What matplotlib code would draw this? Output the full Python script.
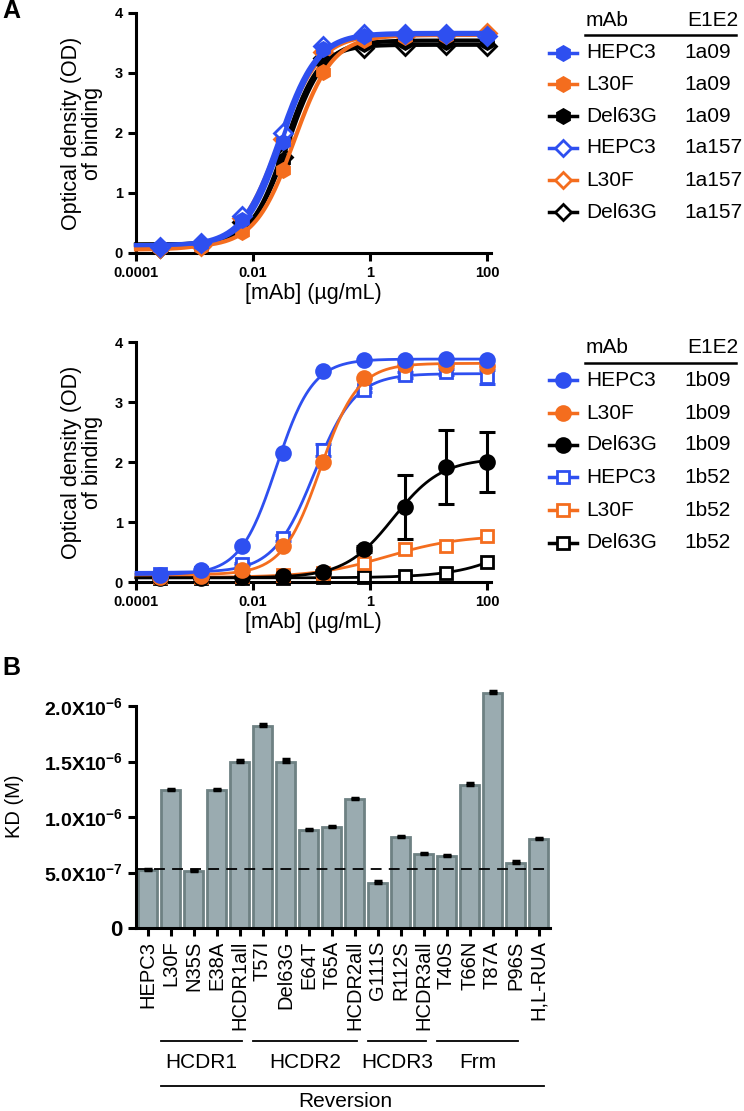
import numpy as np
import matplotlib
matplotlib.use("Agg")
import matplotlib.pyplot as plt
from matplotlib.lines import Line2D
from matplotlib.transforms import blended_transform_factory

plt.rcParams['font.family'] = ['Liberation Sans', 'DejaVu Sans']
plt.rcParams['mathtext.fontset'] = 'custom'
plt.rcParams['mathtext.rm'] = 'Liberation Sans'
plt.rcParams['mathtext.bf'] = 'Liberation Sans:bold'

# ---------------- data ----------------
conc = [0.000256, 0.00128, 0.0064, 0.032, 0.16, 0.8, 4, 20, 100]

# panel A top (E1E2 1a09 / 1a157)
hepc3_1a09 = [0.10, 0.15, 0.55, 1.85, 3.40, 3.62, 3.63, 3.63, 3.62]
l30f_1a09 = [0.08, 0.10, 0.35, 1.38, 3.02, 3.55, 3.60, 3.62, 3.63]
del63g_1a09 = [0.08, 0.12, 0.50, 1.55, 3.20, 3.48, 3.52, 3.52, 3.52]
hepc3_1a157 = [0.10, 0.17, 0.62, 2.00, 3.45, 3.65, 3.65, 3.65, 3.62]
l30f_1a157 = [0.08, 0.12, 0.58, 1.90, 3.35, 3.60, 3.62, 3.63, 3.66]
del63g_1a157 = [0.08, 0.13, 0.52, 1.60, 3.25, 3.42, 3.45, 3.47, 3.45]

# panel A bottom (E1E2 1b09 / 1b52)
hepc3_1b09 = [0.12, 0.20, 0.60, 2.15, 3.52, 3.70, 3.70, 3.72, 3.70]
l30f_1b09 = [0.08, 0.10, 0.20, 0.60, 2.00, 3.40, 3.62, 3.62, 3.60]
del63g_1b09 = [0.07, 0.07, 0.08, 0.10, 0.17, 0.55, 1.25, 1.92, 2.00]
del63g_1b09_err = [0.0, 0.0, 0.0, 0.0, 0.03, 0.05, 0.53, 0.62, 0.50]
hepc3_1b52 = [0.13, 0.15, 0.30, 0.73, 2.20, 3.20, 3.45, 3.50, 3.42]
hepc3_1b52_err = [0.0, 0.0, 0.02, 0.05, 0.10, 0.04, 0.05, 0.05, 0.12]
l30f_1b52 = [0.08, 0.08, 0.10, 0.12, 0.15, 0.32, 0.55, 0.60, 0.77]
del63g_1b52 = [0.06, 0.06, 0.07, 0.07, 0.08, 0.09, 0.10, 0.15, 0.33]

xtick_vals = [0.0001, 0.01, 1, 100]
xtick_labels = ['0.0001', '0.01', '1', '100']

# panel B
mutants = ['HEPC3', 'L30F', 'N35S', 'E38A', 'HCDR1all', 'T57I', 'Del63G', 'E64T',
           'T65A', 'HCDR2all', 'G111S', 'R112S', 'HCDR3all', 'T40S', 'T66N',
           'T87A', 'P96S', 'H,L-RUA']
kd = [0.52e-6, 1.24e-6, 0.51e-6, 1.24e-6, 1.50e-6, 1.82e-6, 1.50e-6, 0.88e-6,
      0.91e-6, 1.16e-6, 0.41e-6, 0.82e-6, 0.67e-6, 0.65e-6, 1.29e-6, 2.12e-6,
      0.59e-6, 0.80e-6]
kd_err = [0.01e-6, 0.015e-6, 0.01e-6, 0.012e-6, 0.015e-6, 0.015e-6, 0.025e-6, 0.01e-6,
          0.01e-6, 0.015e-6, 0.01e-6, 0.01e-6, 0.01e-6, 0.01e-6, 0.015e-6, 0.02e-6,
          0.01e-6, 0.01e-6]
kd_ref = 0.53e-6
groups = [('HCDR1', 1, 4), ('HCDR2', 5, 9), ('HCDR3', 10, 12), ('Frm', 13, 16)]
outer_group = ('Reversion', 1, 17)
ytick_b = [0, 5e-7, 1e-6, 1.5e-6, 2e-6]
ytick_b_labels = ['0', r'$\mathbf{5.0X10^{-7}}$', r'$\mathbf{1.0X10^{-6}}$',
                  r'$\mathbf{1.5X10^{-6}}$', r'$\mathbf{2.0X10^{-6}}$']

BLUE = '#2e4ff0'
ORANGE = '#f46d1e'
BLACK = '#000000'


def fit4pl(x, y):
    lx = np.log10(np.asarray(x, float))
    y = np.asarray(y, float)
    best = None
    for le in np.linspace(-4, 3.5, 151):
        for h in np.linspace(0.4, 3.0, 53):
            s = 1.0 / (1.0 + 10 ** ((le - lx) * h))
            A = np.column_stack([1 - s, s])
            coef = np.linalg.lstsq(A, y, rcond=None)[0]
            sse = np.sum((A @ coef - y) ** 2)
            if best is None or sse < best[0]:
                best = (sse, le, h, coef)
    _, le, h, (b, t) = best
    xf = np.logspace(-4, 2, 300)
    yf = b + (t - b) / (1 + 10 ** ((le - np.log10(xf)) * h))
    return xf, yf


W, H = 744, 1111
fig = plt.figure(figsize=(W / 100, H / 100), dpi=100)


def fx(px):
    return px / W


def fy(py):
    return 1 - py / H


def style_axes(ax, lw=2.2):
    for s in ['top', 'right']:
        ax.spines[s].set_visible(False)
    for s in ['left', 'bottom']:
        ax.spines[s].set_linewidth(lw)
    ax.tick_params(width=lw, length=6, direction='out')


def curve_axes(top_px):
    ax = fig.add_axes([fx(136), fy(top_px + 240), fx(354.5), 240 / H])
    ax.set_xscale('log')
    ax.set_xlim(1e-4, 10 ** 2.06)
    ax.set_ylim(0, 4)
    style_axes(ax)
    ax.set_xticks(xtick_vals)
    ax.set_xticklabels(xtick_labels, fontsize=10.5, fontweight='bold')
    ax.xaxis.set_minor_locator(matplotlib.ticker.NullLocator())
    ax.set_yticks([0, 1, 2, 3, 4])
    ax.set_yticklabels(['0', '1', '2', '3', '4'], fontsize=10.5, fontweight='bold')
    ax.set_xlabel('[mAb] (\u00b5g/mL)', fontsize=15.5, labelpad=2)
    ax.set_ylabel('Optical density (OD)\nof binding', fontsize=15.5, labelpad=8,
                  linespacing=1.0)
    return ax


def legend_block(header_y, line_y, rows):
    fig.text(fx(586), fy(header_y), 'mAb', fontsize=15, va='center', ha='left')
    fig.text(fx(738), fy(header_y), 'E1E2', fontsize=15, va='center', ha='right')
    fig.add_artist(Line2D([fx(585), fx(736)], [fy(line_y), fy(line_y)],
                          color='black', lw=1.8, transform=fig.transFigure))
    for (ry, name, e, color, marker, mfc, ms) in rows:
        fig.add_artist(Line2D([fx(549), fx(577)], [fy(ry), fy(ry)], color=color, lw=2.5,
                              transform=fig.transFigure))
        fig.add_artist(Line2D([fx(563)], [fy(ry)], color=color, lw=0, marker=marker,
                              ms=ms, mfc=mfc, mec=color, mew=2,
                              transform=fig.transFigure))
        fig.text(fx(586), fy(ry), name, fontsize=15, va='center', ha='left')
        fig.text(fx(684), fy(ry), e, fontsize=15, va='center', ha='left')


# ---- top panel ----
ax1 = curve_axes(13)
top_series = [
    (del63g_1a157, BLACK, 'D', 'white'),
    (l30f_1a157, ORANGE, 'D', 'white'),
    (del63g_1a09, BLACK, 'h', BLACK),
    (l30f_1a09, ORANGE, 'h', ORANGE),
    (hepc3_1a157, BLUE, 'D', 'white'),
    (hepc3_1a09, BLUE, 'h', BLUE),
]
for i, (ys, c, m, mfc) in enumerate(top_series):
    xf, yf = fit4pl(conc, ys)
    ax1.plot(xf, yf, color=c, lw=3.0, zorder=2 + i, clip_on=False)
    ax1.plot(conc, ys, ls='none', marker=m, ms=10 if m == 'h' else 9, mfc=mfc,
             mec=c, mew=2, zorder=2 + i, clip_on=False)

legend_block(20, 35, [
    (53, 'HEPC3', '1a09', BLUE, 'h', BLUE, 10),
    (84, 'L30F', '1a09', ORANGE, 'h', ORANGE, 10),
    (116, 'Del63G', '1a09', BLACK, 'h', BLACK, 10),
    (148, 'HEPC3', '1a157', BLUE, 'D', 'white', 8.5),
    (180, 'L30F', '1a157', ORANGE, 'D', 'white', 8.5),
    (212, 'Del63G', '1a157', BLACK, 'D', 'white', 8.5),
])

# ---- middle panel ----
ax2 = curve_axes(342)
mid_series = [
    (del63g_1b52, None, BLACK, 's', 'white'),
    (l30f_1b52, None, ORANGE, 's', 'white'),
    (del63g_1b09, del63g_1b09_err, BLACK, 'o', BLACK),
    (hepc3_1b52, hepc3_1b52_err, BLUE, 's', 'white'),
    (l30f_1b09, None, ORANGE, 'o', ORANGE),
    (hepc3_1b09, None, BLUE, 'o', BLUE),
]
for i, (ys, err, c, m, mfc) in enumerate(mid_series):
    xf, yf = fit4pl(conc, ys)
    ax2.plot(xf, yf, color=c, lw=2.0, zorder=2 + i, clip_on=False)
    if err is not None:
        ax2.errorbar(conc, ys, yerr=err, fmt='none', ecolor=c, elinewidth=2.2,
                     capsize=6, capthick=2.2, zorder=2 + i, clip_on=False)
    ax2.plot(conc, ys, ls='none', marker=m, ms=10 if m == 'o' else 9, mfc=mfc,
             mec=c, mew=2, zorder=2 + i, clip_on=False)

legend_block(348, 363, [
    (380, 'HEPC3', '1b09', BLUE, 'o', BLUE, 10),
    (413, 'L30F', '1b09', ORANGE, 'o', ORANGE, 10),
    (445, 'Del63G', '1b09', BLACK, 'o', BLACK, 10),
    (477, 'HEPC3', '1b52', BLUE, 's', 'white', 9),
    (510, 'L30F', '1b52', ORANGE, 's', 'white', 9),
    (543, 'Del63G', '1b52', BLACK, 's', 'white', 9),
])

fig.text(fx(2), fy(11), 'A', fontsize=18, fontweight='bold', va='center', ha='left')

# ---- bar panel ----
ax3 = fig.add_axes([fx(136), fy(928), fx(414), 244 / H])
style_axes(ax3)
xpos = np.arange(len(mutants))
ax3.bar(xpos, kd, width=0.8, color='#9aabb0', edgecolor='#6e8183', linewidth=2.0,
        zorder=2)
ax3.errorbar(xpos, kd, yerr=[np.zeros(len(kd)), kd_err], fmt='none', ecolor='black',
             elinewidth=2, capsize=3, capthick=2.5, zorder=3, clip_on=False)
ax3.axhline(kd_ref, color='black', lw=1.3, dashes=(6, 4), zorder=4)
ax3.set_xlim(-0.5, len(mutants) - 0.5)
ax3.set_ylim(0, 2.2e-6)
ax3.spines['left'].set_bounds(0, 2e-6)
ax3.set_yticks(ytick_b)
ax3.set_yticklabels(ytick_b_labels, fontsize=14)
ax3.get_yticklabels()[0].set_fontweight('bold')
ax3.get_yticklabels()[0].set_fontsize(16)
ax3.set_xticks(xpos)
ax3.set_xticklabels(mutants, rotation=90, fontsize=14.5)
ax3.tick_params(axis='x', pad=3)
ax3.set_ylabel('KD (M)', fontsize=14.5, labelpad=14)

tr = blended_transform_factory(ax3.transData, ax3.transAxes)
for name, a, b in groups:
    ax3.add_artist(Line2D([a - 0.4, b + 0.1], [-0.463, -0.463], color='black', lw=1.3,
                          transform=tr, clip_on=False))
    ax3.text((a - 0.4 + b + 0.1) / 2, -0.553, name, transform=tr, fontsize=15,
             ha='center', va='center')
name, a, b = outer_group
ax3.add_artist(Line2D([a - 0.43, b + 0.26], [-0.648, -0.648], color='black', lw=1.3,
                      transform=tr, clip_on=False))
ax3.text((a + b) / 2 - 0.4, -0.713, name, transform=tr, fontsize=15,
         ha='center', va='center')

fig.text(fx(2), fy(668), 'B', fontsize=18, fontweight='bold', va='center', ha='left')

fig.savefig('out.png', dpi=100)
